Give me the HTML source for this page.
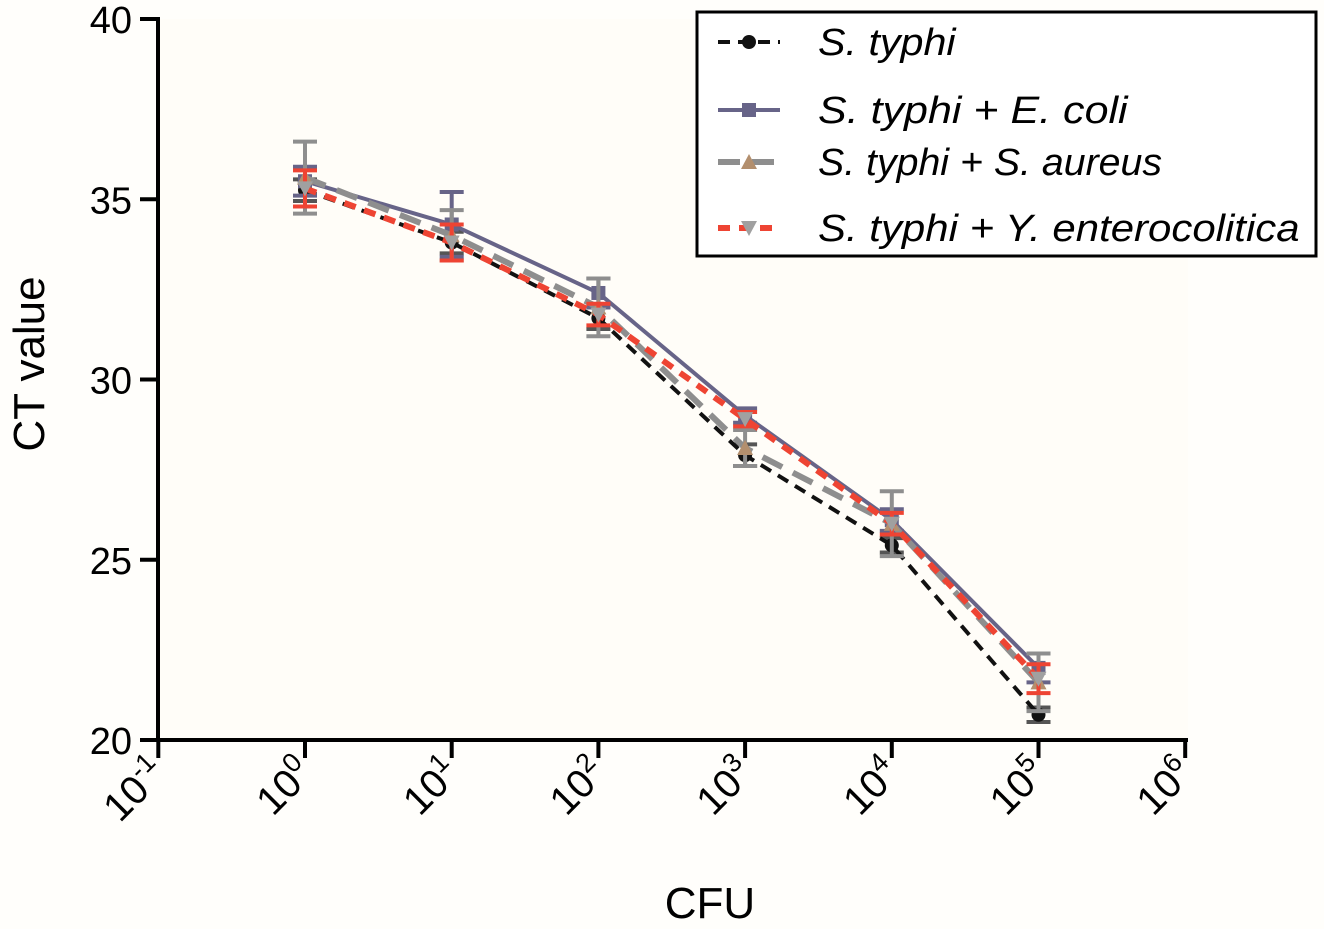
<!DOCTYPE html>
<html><head><meta charset="utf-8"><style>
body{margin:0;background:#fff;}
svg{display:block;font-family:"Liberation Sans",sans-serif;}
</style></head><body>
<svg id="chart" width="1324" height="929">
<rect x="0" y="0" width="1324" height="929" fill="#fffefb"/>
<rect x="158" y="19" width="1030" height="721" fill="#fffdf8"/>
<g id="axes"></g>
<g id="series"></g>
<text x="44" y="364" font-size="44" text-anchor="middle" transform="rotate(-90 44 364)">CT value</text>
<text x="710" y="918" font-size="44" text-anchor="middle">CFU</text>
<g>
<rect x="697" y="12" width="619" height="244" fill="#fff" stroke="#000" stroke-width="3"/>
<g id="legend"></g>
</g>
</svg>
<script>
const exps=[0,1,2,3,4,5];
const xTickExps=[-1,0,1,2,3,4,5,6];
const yTicks=[20,25,30,35,40];
const typhi=[35.25,33.8,31.7,27.9,25.4,20.7];
const typhiErr=[0.3,0.3,0.3,0.3,0.2,0.2];
const ecoli=[35.5,34.3,32.4,29.0,26.1,22.0];
const ecoliErr=[0.4,0.9,0.4,0.2,0.3,0.4];
const aureus=[35.6,34.0,32.0,28.1,26.0,21.6];
const aureusErr=[1.0,0.7,0.8,0.5,0.9,0.8];
const yent=[35.3,33.8,31.8,28.9,26.0,21.7];
const yentErr=[0.5,0.5,0.3,0.2,0.3,0.4];
const names=["S. typhi","S. typhi + E. coli","S. typhi + S. aureus","S. typhi + Y. enterocolitica"];

const NS="http://www.w3.org/2000/svg";
const X=e=>305+(e)*146.7;
const Y=v=>740-(v-20)*36.05;
function mk(t,a,p){const e=document.createElementNS(NS,t);for(const k in a)e.setAttribute(k,a[k]);p.appendChild(e);return e;}
const ax=document.getElementById('axes');
let l=mk('line',{x1:158,y1:17,x2:158,y2:742,stroke:'#000','stroke-width':4},ax);


l=mk('line',{x1:156,y1:740,x2:1188,y2:740,stroke:'#000','stroke-width':4},ax);


yTicks.forEach(v=>{
 const t=mk('line',{x1:140,x2:158,y1:Y(v),y2:Y(v),stroke:'#000','stroke-width':4},ax);
 
 
 const tx=mk('text',{x:132,y:Y(v)+14,'font-size':38,'text-anchor':'end'},ax);tx.textContent=v;
 
 
});
xTickExps.forEach(e=>{
 const x=X(e);
 const t=mk('line',{x1:x,x2:x,y1:740,y2:758,stroke:'#000','stroke-width':4},ax);
 
 
 const tx=mk('text',{x:x+10,y:775,'font-size':40,'text-anchor':'end',transform:`rotate(-45 ${x+10} 775)`},ax);
 tx.innerHTML='10<tspan dy="-16" font-size="27">'+e+'</tspan>';
 
 
});
const S=[
 {d:typhi,e:typhiErr,c:'#111',dash:'12 8',w:4,m:'circle',mc:'#111',ec:'#555'},
 {d:ecoli,e:ecoliErr,c:'#676488',dash:'',w:4,m:'square',mc:'#676488',ec:'#676488'},
 {d:aureus,e:aureusErr,c:'#8e8e8e',dash:'22 12',w:6,m:'tri',mc:'#b38f6e',ec:'#8e8e8e'},
 {d:yent,e:yentErr,c:'#ee4433',dash:'12 9',w:6,m:'dtri',mc:'#a0a0a0',ec:'#ee4433'}];
const sg=document.getElementById('series');
function marker(s,x,y,g){
 if(s.m=='circle')return mk('circle',{cx:x,cy:y,r:7,fill:s.mc},g);
 if(s.m=='square')return mk('rect',{x:x-7,y:y-7,width:14,height:14,fill:s.mc},g);
 if(s.m=='tri')return mk('polygon',{points:`${x-8},${y+7} ${x+8},${y+7} ${x},${y-8}`,fill:s.mc},g);
 return mk('polygon',{points:`${x-8},${y-7} ${x+8},${y-7} ${x},${y+8}`,fill:s.mc},g);
}
S.forEach((s,i)=>{
 const g=mk('g',{},sg);
 
 
 s.d.forEach((v,j)=>{
  const x=X(exps[j]);
  const eb=mk('path',{d:`M${x},${Y(v+s.e[j])}V${Y(v-s.e[j])}M${x-12},${Y(v+s.e[j])}h24M${x-12},${Y(v-s.e[j])}h24`,stroke:s.ec,'stroke-width':4,fill:'none'},g);
  
  
 });
 const p=mk('polyline',{points:s.d.map((v,j)=>X(exps[j])+','+Y(v)).join(' '),fill:'none',stroke:s.c,'stroke-width':s.w,'stroke-dasharray':s.dash},g);
 
 
 s.d.forEach((v,j)=>{
  const m=marker(s,X(exps[j]),Y(v),g);
  
  
 });
 const lg=document.getElementById('legend');
 const ly=[42,110,162,228][i];
 const ll=mk('line',{x1:718,x2:780,y1:ly,y2:ly,stroke:s.c,'stroke-width':s.w,'stroke-dasharray':s.dash},lg);
 
 
 const lm=marker(s,749,ly,lg);
 
 
 const lt=mk('text',{x:818,y:ly+13,'font-size':38,'font-style':'italic',textLength:names[i].length*17.2,lengthAdjust:'spacingAndGlyphs'},lg);
 lt.textContent=names[i];
 
 
});
</script>
</body></html>
